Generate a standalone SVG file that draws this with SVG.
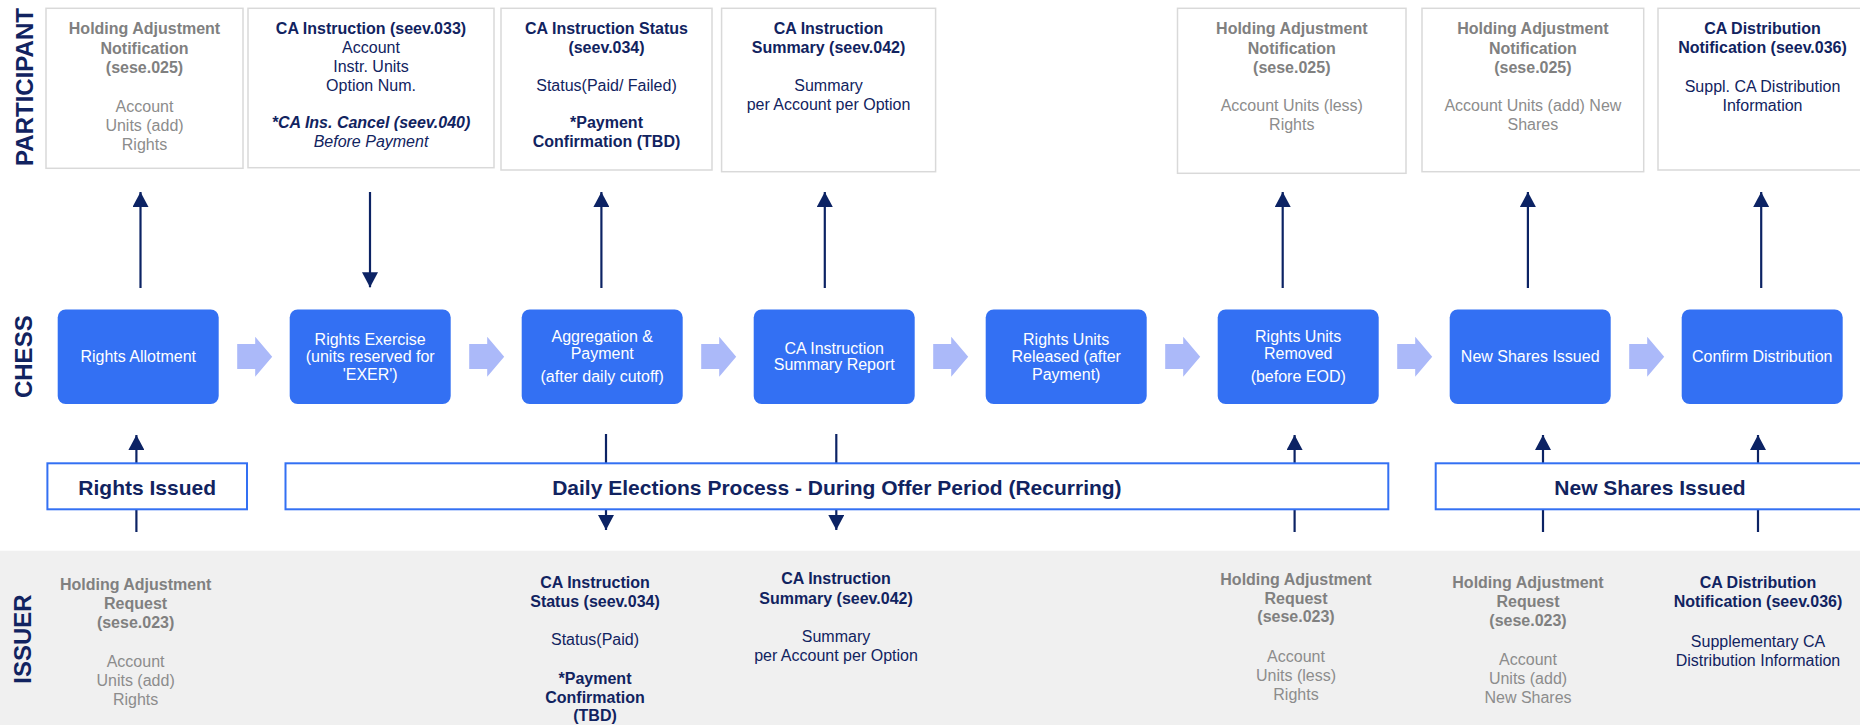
<svg xmlns="http://www.w3.org/2000/svg" width="1860" height="725" viewBox="0 0 1860 725">
<defs>
<style>
text{font-family:"Liberation Sans",Arial,sans-serif;}
.lane{font-size:24px;font-weight:bold;fill:#112360;}
.pbox{fill:#ffffff;stroke:#d9d9d9;stroke-width:1.5;}
.gt{font-size:16px;font-weight:bold;fill:#808080;text-anchor:middle;}
.gb{font-size:16px;fill:#8c8c8c;text-anchor:middle;}
.nt{font-size:16px;font-weight:bold;fill:#112360;text-anchor:middle;}
.nb{font-size:16px;fill:#112360;text-anchor:middle;}
.ni{font-size:16px;font-style:italic;fill:#112360;text-anchor:middle;}
.nbi{font-size:16px;font-style:italic;font-weight:bold;fill:#112360;text-anchor:middle;}
.cbox{fill:#3370f3;}
.ct{font-size:16px;fill:#ffffff;text-anchor:middle;}
.blk{fill:#abb9f9;}
.phase{fill:#ffffff;stroke:#3370f3;stroke-width:2;}
.pt{font-size:21px;font-weight:bold;fill:#112360;text-anchor:middle;}
.conn{stroke:#0c2364;stroke-width:2.2;fill:none;marker-end:url(#ah);}
</style>
<marker id="ah" viewBox="0 0 15 16" refX="15" refY="8" markerWidth="15" markerHeight="16" markerUnits="userSpaceOnUse" orient="auto">
<path d="M0,0 L15,8 L0,16 Z" fill="#0c2364"/>
</marker>
</defs>

<rect x="0" y="0" width="1860" height="725" fill="#ffffff"/>
<rect id="issuer-band" x="0" y="550.7" width="1860" height="174.3" fill="#f0f0f0"/>

<g id="lane-labels">
<text class="lane" text-anchor="middle" transform="translate(32.5,87) rotate(-90)">PARTICIPANT</text>
<text class="lane" text-anchor="middle" transform="translate(31.5,356.7) rotate(-90)">CHESS</text>
<text class="lane" text-anchor="middle" transform="translate(31,639) rotate(-90)">ISSUER</text>
</g>

<g id="connectors">
<line class="conn" x1="140.5" y1="288" x2="140.5" y2="192"/>
<line class="conn" x1="370" y1="192" x2="370" y2="287.3"/>
<line class="conn" x1="601.4" y1="288" x2="601.4" y2="192"/>
<line class="conn" x1="824.8" y1="288" x2="824.8" y2="192"/>
<line class="conn" x1="1282.7" y1="288" x2="1282.7" y2="192"/>
<line class="conn" x1="1527.9" y1="288" x2="1527.9" y2="192"/>
<line class="conn" x1="1761.2" y1="288" x2="1761.2" y2="192"/>
<line class="conn" x1="136.4" y1="532" x2="136.4" y2="435"/>
<line class="conn" x1="606" y1="434" x2="606" y2="530"/>
<line class="conn" x1="836.3" y1="434" x2="836.3" y2="530"/>
<line class="conn" x1="1294.6" y1="532" x2="1294.6" y2="435"/>
<line class="conn" x1="1543" y1="532" x2="1543" y2="435"/>
<line class="conn" x1="1758" y1="532" x2="1758" y2="435"/>
</g>

<g id="flow-arrows">
<polygon class="blk" points="237.2,344 255.2,344 255.2,336.7 272.2,356.7 255.2,376.7 255.2,369 237.2,369"/>
<polygon class="blk" points="469.2,344 487.2,344 487.2,336.7 504.2,356.7 487.2,376.7 487.2,369 469.2,369"/>
<polygon class="blk" points="701.2,344 719.2,344 719.2,336.7 736.2,356.7 719.2,376.7 719.2,369 701.2,369"/>
<polygon class="blk" points="933.2,344 951.2,344 951.2,336.7 968.2,356.7 951.2,376.7 951.2,369 933.2,369"/>
<polygon class="blk" points="1165.2,344 1183.2,344 1183.2,336.7 1200.2,356.7 1183.2,376.7 1183.2,369 1165.2,369"/>
<polygon class="blk" points="1397.2,344 1415.2,344 1415.2,336.7 1432.2,356.7 1415.2,376.7 1415.2,369 1397.2,369"/>
<polygon class="blk" points="1629.2,344 1647.2,344 1647.2,336.7 1664.2,356.7 1647.2,376.7 1647.2,369 1629.2,369"/>
</g>

<g id="p-holding-add-rights">
<rect class="pbox" x="46" y="8.3" width="197" height="160"/>
<text class="gt" x="144.5" y="34.3">Holding Adjustment</text>
<text class="gt" x="144.5" y="53.5">Notification</text>
<text class="gt" x="144.5" y="72.7">(sese.025)</text>
<text class="gb" x="144.5" y="111.5">Account</text>
<text class="gb" x="144.5" y="130.7">Units (add)</text>
<text class="gb" x="144.5" y="149.9">Rights</text>
</g>

<g id="p-ca-instruction">
<rect class="pbox" x="248" y="8.3" width="246" height="159.4"/>
<text class="nt" x="371" y="34.3">CA Instruction (seev.033)</text>
<text class="nb" x="371" y="53">Account</text>
<text class="nb" x="371" y="72">Instr. Units</text>
<text class="nb" x="371" y="91">Option Num.</text>
<text class="nbi" x="371" y="128">*CA Ins. Cancel (seev.040)</text>
<text class="ni" x="371" y="147">Before Payment</text>
</g>

<g id="p-ca-status">
<rect class="pbox" x="501" y="8.3" width="211" height="161.7"/>
<text class="nt" x="606.5" y="34.3">CA Instruction Status</text>
<text class="nt" x="606.5" y="53.3">(seev.034)</text>
<text class="nb" x="606.5" y="91">Status(Paid/ Failed)</text>
<text class="nt" x="606.5" y="128.3">*Payment</text>
<text class="nt" x="606.5" y="147">Confirmation (TBD)</text>
</g>

<g id="p-ca-summary">
<rect class="pbox" x="721.6" y="8.3" width="214" height="163.4"/>
<text class="nt" x="828.5" y="33.8">CA Instruction</text>
<text class="nt" x="828.5" y="52.8">Summary (seev.042)</text>
<text class="nb" x="828.5" y="91">Summary</text>
<text class="nb" x="828.5" y="110">per Account per Option</text>
</g>

<g id="p-holding-less-rights">
<rect class="pbox" x="1177.5" y="8.3" width="228.5" height="165"/>
<text class="gt" x="1291.8" y="34.3">Holding Adjustment</text>
<text class="gt" x="1291.8" y="53.5">Notification</text>
<text class="gt" x="1291.8" y="72.7">(sese.025)</text>
<text class="gb" x="1291.8" y="110.5">Account Units (less)</text>
<text class="gb" x="1291.8" y="129.5">Rights</text>
</g>

<g id="p-holding-add-shares">
<rect class="pbox" x="1422" y="8.3" width="221.7" height="163.4"/>
<text class="gt" x="1532.9" y="34.3">Holding Adjustment</text>
<text class="gt" x="1532.9" y="53.5">Notification</text>
<text class="gt" x="1532.9" y="72.7">(sese.025)</text>
<text class="gb" x="1532.9" y="110.5">Account Units (add) New</text>
<text class="gb" x="1532.9" y="129.5">Shares</text>
</g>

<g id="p-ca-distribution">
<rect class="pbox" x="1658" y="8.3" width="209" height="161.7"/>
<text class="nt" x="1762.5" y="34.3">CA Distribution</text>
<text class="nt" x="1762.5" y="53.3">Notification (seev.036)</text>
<text class="nb" x="1762.5" y="91.5">Suppl. CA Distribution</text>
<text class="nb" x="1762.5" y="110.5">Information</text>
</g>

<g id="c-rights-allotment">
<rect class="cbox" x="57.7" y="309.5" width="161" height="94.5" rx="8"/>
<text class="ct" x="138.2" y="362.3">Rights Allotment</text>
</g>
<g id="c-rights-exercise">
<rect class="cbox" x="289.7" y="309.5" width="161" height="94.5" rx="8"/>
<text class="ct" x="370.2" y="345">Rights Exercise</text>
<text class="ct" x="370.2" y="362.3">(units reserved for</text>
<text class="ct" x="370.2" y="379.6">'EXER')</text>
</g>
<g id="c-aggregation">
<rect class="cbox" x="521.7" y="309.5" width="161" height="94.5" rx="8"/>
<text class="ct" x="602.2" y="341.7">Aggregation &amp;</text>
<text class="ct" x="602.2" y="358.7">Payment</text>
<text class="ct" x="602.2" y="381.7">(after daily cutoff)</text>
</g>
<g id="c-summary-report">
<rect class="cbox" x="753.7" y="309.5" width="161" height="94.5" rx="8"/>
<text class="ct" x="834.2" y="354">CA Instruction</text>
<text class="ct" x="834.2" y="370">Summary Report</text>
</g>
<g id="c-units-released">
<rect class="cbox" x="985.7" y="309.5" width="161" height="94.5" rx="8"/>
<text class="ct" x="1066.2" y="345">Rights Units</text>
<text class="ct" x="1066.2" y="362.3">Released (after</text>
<text class="ct" x="1066.2" y="379.6">Payment)</text>
</g>
<g id="c-units-removed">
<rect class="cbox" x="1217.7" y="309.5" width="161" height="94.5" rx="8"/>
<text class="ct" x="1298.2" y="341.7">Rights Units</text>
<text class="ct" x="1298.2" y="358.7">Removed</text>
<text class="ct" x="1298.2" y="381.7">(before EOD)</text>
</g>
<g id="c-new-shares">
<rect class="cbox" x="1449.7" y="309.5" width="161" height="94.5" rx="8"/>
<text class="ct" x="1530.2" y="362.3">New Shares Issued</text>
</g>
<g id="c-confirm-distribution">
<rect class="cbox" x="1681.7" y="309.5" width="161" height="94.5" rx="8"/>
<text class="ct" x="1762.2" y="362.3">Confirm Distribution</text>
</g>

<g id="phase-rights-issued">
<rect class="phase" x="47.4" y="463.3" width="199.6" height="46"/>
<text class="pt" x="147.2" y="495">Rights Issued</text>
</g>
<g id="phase-daily-elections">
<rect class="phase" x="285.5" y="463.3" width="1102.8" height="46"/>
<text class="pt" x="836.9" y="495">Daily Elections Process - During Offer Period (Recurring)</text>
</g>
<g id="phase-new-shares">
<rect class="phase" x="1435.7" y="463.3" width="428" height="46"/>
<text class="pt" x="1650" y="495">New Shares Issued</text>
</g>

<g id="i-holding-add-rights">
<text class="gt" x="135.6" y="590">Holding Adjustment</text>
<text class="gt" x="135.6" y="609">Request</text>
<text class="gt" x="135.6" y="628">(sese.023)</text>
<text class="gb" x="135.6" y="666.7">Account</text>
<text class="gb" x="135.6" y="685.7">Units (add)</text>
<text class="gb" x="135.6" y="704.5">Rights</text>
</g>
<g id="i-ca-status">
<text class="nt" x="595" y="588.3">CA Instruction</text>
<text class="nt" x="595" y="607.3">Status (seev.034)</text>
<text class="nb" x="595" y="645">Status(Paid)</text>
<text class="nt" x="595" y="684">*Payment</text>
<text class="nt" x="595" y="702.7">Confirmation</text>
<text class="nt" x="595" y="721">(TBD)</text>
</g>
<g id="i-ca-summary">
<text class="nt" x="836" y="584.3">CA Instruction</text>
<text class="nt" x="836" y="603.5">Summary (seev.042)</text>
<text class="nb" x="836" y="641.7">Summary</text>
<text class="nb" x="836" y="660.7">per Account per Option</text>
</g>
<g id="i-holding-less-rights">
<text class="gt" x="1296" y="585">Holding Adjustment</text>
<text class="gt" x="1296" y="603.5">Request</text>
<text class="gt" x="1296" y="622.3">(sese.023)</text>
<text class="gb" x="1296" y="661.7">Account</text>
<text class="gb" x="1296" y="680.7">Units (less)</text>
<text class="gb" x="1296" y="699.5">Rights</text>
</g>
<g id="i-holding-add-shares">
<text class="gt" x="1528" y="588.3">Holding Adjustment</text>
<text class="gt" x="1528" y="607.3">Request</text>
<text class="gt" x="1528" y="626.3">(sese.023)</text>
<text class="gb" x="1528" y="665">Account</text>
<text class="gb" x="1528" y="684">Units (add)</text>
<text class="gb" x="1528" y="703">New Shares</text>
</g>
<g id="i-ca-distribution">
<text class="nt" x="1758" y="588.3">CA Distribution</text>
<text class="nt" x="1758" y="607.3">Notification (seev.036)</text>
<text class="nb" x="1758" y="646.7">Supplementary CA</text>
<text class="nb" x="1758" y="665.5">Distribution Information</text>
</g>
</svg>
